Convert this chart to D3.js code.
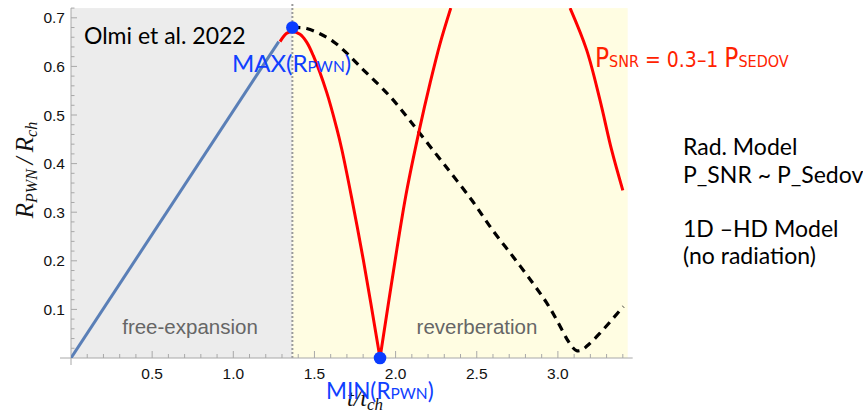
<!DOCTYPE html>
<html>
<head>
<meta charset="utf-8">
<script src="https://cdn.jsdelivr.net/npm/d3@7"></script>
<style>
  html, body { margin: 0; padding: 0; background: #fff; }
  svg { display: block; }
</style>
</head>
<body>
<svg id="chart" width="863" height="414"></svg>
<script>
// ---------------- data ----------------
const xTicks = [0.5, 1.0, 1.5, 2.0, 2.5, 3.0];
const xTickLabels = ["0.5", "1.0", "1.5", "2.0", "2.5", "3.0"];
const yTicks = [0.1, 0.2, 0.3, 0.4, 0.5, 0.6, 0.7];
const yTickLabels = ["0.1", "0.2", "0.3", "0.4", "0.5", "0.6", "0.7"];

const tReverb = 1.364;      // start of reverberation phase
const tEnd = 3.43;          // end of shaded region

// free expansion (blue)
const blueT = [0, 1.28];
const blueR = [0, 0.651];

// radiative model (red): falling arc, rising arc (to frame top), last falling arc
const redFallT = [1.288, 1.329, 1.364, 1.411, 1.452, 1.493, 1.575, 1.637, 1.668, 1.729, 1.801, 1.904];
const redFallR = [0.651, 0.668, 0.672, 0.666, 0.650, 0.622, 0.547, 0.473, 0.430, 0.330, 0.202, 0.000];
const redRiseT = [1.904, 2.007, 2.068, 2.146, 2.212, 2.274, 2.340];
const redRiseR = [0.000, 0.222, 0.343, 0.469, 0.565, 0.647, 0.720];
const redLastT = [3.075, 3.177, 3.259, 3.331, 3.400];
const redLastR = [0.720, 0.634, 0.531, 0.428, 0.345];

// 1D HD model (black dashed)
const dashT = [1.364, 1.452, 1.616, 1.801, 1.966, 2.078, 2.150, 2.300, 2.469, 2.600, 2.725, 2.850, 2.930, 2.993, 3.054, 3.090, 3.116, 3.145, 3.177, 3.259, 3.403];
const dashR = [0.680, 0.678, 0.651, 0.593, 0.538, 0.493, 0.462, 0.398, 0.325, 0.262, 0.208, 0.152, 0.114, 0.078, 0.040, 0.022, 0.015, 0.016, 0.024, 0.051, 0.106];

const maxPoint = [1.364, 0.680];
const minPoint = [1.904, 0.0];

// ---------------- layout ----------------
const svg = d3.select("#chart");
const x = d3.scaleLinear().domain([0, tEnd]).range([71, 71 + tEnd * 162.3]);
const y = d3.scaleLinear().domain([0, 0.72]).range([358, 358 - 0.72 * 486]);

const toPts = (T, R) => T.map((t, i) => [t, R[i]]);
const line = d3.line().x(d => x(d[0])).y(d => y(d[1]));
const smoothCR = d3.line().x(d => x(d[0])).y(d => y(d[1])).curve(d3.curveCatmullRom.alpha(0.5));

// clip
svg.append("clipPath").attr("id", "plotclip").append("rect")
  .attr("x", x(0)).attr("y", y(0.72)).attr("width", x(tEnd) - x(0)).attr("height", y(0) - y(0.72));

// backgrounds
svg.append("rect").attr("x", x(0)).attr("y", y(0.72))
  .attr("width", x(tReverb) - x(0)).attr("height", y(0) - y(0.72)).attr("fill", "#ececec");
svg.append("rect").attr("x", x(tReverb)).attr("y", y(0.72))
  .attr("width", x(tEnd) - x(tReverb)).attr("height", y(0) - y(0.72)).attr("fill", "#fffde2");

// dotted boundary
svg.append("line").attr("x1", x(tReverb)).attr("x2", x(tReverb))
  .attr("y1", y(0.72) - 4).attr("y2", y(0))
  .attr("stroke", "#9a9a9a").attr("stroke-width", 2).attr("stroke-dasharray", "2,2");

// axes
const axisColor = "#a8a8a8";
svg.append("line").attr("x1", x(0) - 11).attr("x2", x(tEnd) + 5).attr("y1", y(0)).attr("y2", y(0))
  .attr("stroke", axisColor).attr("stroke-width", 1);
svg.append("line").attr("x1", x(0)).attr("x2", x(0)).attr("y1", y(0.72)).attr("y2", y(0) + 7)
  .attr("stroke", axisColor).attr("stroke-width", 1);

// x ticks (inside, upward)
const xMinor = d3.range(1, 35).map(i => i / 10);
svg.append("g").selectAll("line").data(xMinor).join("line")
  .attr("x1", d => x(d)).attr("x2", d => x(d))
  .attr("y1", y(0)).attr("y2", d => y(0) - (Math.abs(d * 2 - Math.round(d * 2)) < 1e-6 ? 7 : 4))
  .attr("stroke", axisColor).attr("stroke-width", 1);
svg.append("g").selectAll("text").data(xTicks).join("text")
  .attr("x", d => x(d)).attr("y", 378.5)
  .attr("text-anchor", "middle")
  .attr("font-family", "Liberation Sans, Arial, sans-serif").attr("font-size", 15.5).attr("fill", "#111")
  .text((d, i) => xTickLabels[i]);

// y ticks (inside, rightward)
const yMinor = d3.range(1, 37).map(i => i / 50);
svg.append("g").selectAll("line").data(yMinor).join("line")
  .attr("x1", x(0)).attr("x2", d => x(0) + (Math.abs(d * 10 - Math.round(d * 10)) < 1e-6 ? 6 : 3.5))
  .attr("y1", d => y(d)).attr("y2", d => y(d))
  .attr("stroke", axisColor).attr("stroke-width", 1);
svg.append("g").selectAll("text").data(yTicks).join("text")
  .attr("x", 65).attr("y", d => y(d)).attr("dy", "0.36em")
  .attr("text-anchor", "end")
  .attr("font-family", "Liberation Sans, Arial, sans-serif").attr("font-size", 15.5).attr("fill", "#111")
  .text((d, i) => yTickLabels[i]);

// region labels
svg.append("text").attr("x", 190).attr("y", 334).attr("text-anchor", "middle")
  .attr("font-family", "Liberation Sans, Arial, sans-serif").attr("font-size", 20.5).attr("fill", "#666")
  .text("free-expansion");
svg.append("text").attr("x", 477).attr("y", 334).attr("text-anchor", "middle")
  .attr("font-family", "Liberation Sans, Arial, sans-serif").attr("font-size", 20.5).attr("fill", "#666")
  .text("reverberation");

// curves
const plot = svg.append("g").attr("clip-path", "url(#plotclip)");
plot.append("path").datum(toPts(blueT, blueR)).attr("d", line)
  .attr("fill", "none").attr("stroke", "#5a7fb7").attr("stroke-width", 3);
plot.append("path").datum(toPts(dashT, dashR)).attr("d", smoothCR)
  .attr("fill", "none").attr("stroke", "#000").attr("stroke-width", 3.2).attr("stroke-dasharray", "8,6");
[[redFallT, redFallR], [redRiseT, redRiseR], [redLastT, redLastR]].forEach(([T, R]) => {
  plot.append("path").datum(toPts(T, R)).attr("d", smoothCR)
    .attr("fill", "none").attr("stroke", "#ff0000").attr("stroke-width", 3)
    .attr("stroke-linejoin", "miter");
});

// markers
svg.append("g").selectAll("circle").data([maxPoint, minPoint]).join("circle")
  .attr("cx", d => x(d[0])).attr("cy", d => y(d[1])).attr("r", 6.3).attr("fill", "#0a3cff");

// axis titles (italic serif)
const yl = svg.append("text").attr("transform", "translate(33,170) rotate(-90)")
  .attr("text-anchor", "middle").attr("font-family", "Liberation Serif, Times New Roman, serif")
  .attr("font-style", "italic").attr("font-size", 25).attr("fill", "#111");
yl.append("tspan").text("R");
yl.append("tspan").attr("font-size", 16).attr("dy", 4).text("PWN");
yl.append("tspan").attr("dy", -4).text("\u2009/\u2009R");
yl.append("tspan").attr("font-size", 16).attr("dy", 4).text("ch");

const xl = svg.append("text").attr("x", 347).attr("y", 406)
  .attr("font-family", "Liberation Serif, Times New Roman, serif")
  .attr("font-style", "italic").attr("font-size", 24).attr("fill", "#111");
xl.append("tspan").text("t/t");
xl.append("tspan").attr("font-size", 17).attr("dy", 4).text("ch");

// annotations
const blue = "#1040ff";
const mx = svg.append("text").attr("x", 232).attr("y", 72)
  .attr("font-family", "Lato, Open Sans, sans-serif").attr("font-size", 24).attr("fill", blue);
mx.append("tspan").text("MAX(R");
mx.append("tspan").attr("font-size", 15.5).text("PWN");
mx.append("tspan").text(")");

const mn = svg.append("text").attr("x", 326).attr("y", 398.5)
  .attr("font-family", "Lato, Open Sans, sans-serif").attr("font-size", 22.5).attr("fill", blue);
mn.append("tspan").text("MIN(R");
mn.append("tspan").attr("font-size", 15.5).text("PWN");
mn.append("tspan").text(")");

svg.append("text").attr("x", 84).attr("y", 44)
  .attr("font-family", "Lato, Open Sans, sans-serif").attr("font-size", 23).attr("fill", "#000")
  .text("Olmi et al. 2022");

const ps = svg.append("text").attr("x", 595).attr("y", 67)
  .attr("font-family", "Liberation Sans Narrow, DejaVu Sans Condensed, sans-serif").attr("fill", "#ff2200");
ps.append("tspan").attr("font-size", 26).text("P");
ps.append("tspan").attr("font-size", 16).text("SNR");
ps.append("tspan").attr("font-size", 21).text(" = 0.3\u20131 ");
ps.append("tspan").attr("font-size", 26).text("P");
ps.append("tspan").attr("font-size", 16).text("SEDOV");

const right = ["Rad. Model", "P_SNR ~ P_Sedov", "1D \u2013HD Model", "(no radiation)"];
const rightY = [155, 183, 237, 264];
svg.append("g").selectAll("text").data(right).join("text")
  .attr("x", 683).attr("y", (d, i) => rightY[i])
  .attr("font-family", "Lato, Open Sans, sans-serif").attr("font-size", 23).attr("fill", "#000")
  .text(d => d);
</script>
</body>
</html>
